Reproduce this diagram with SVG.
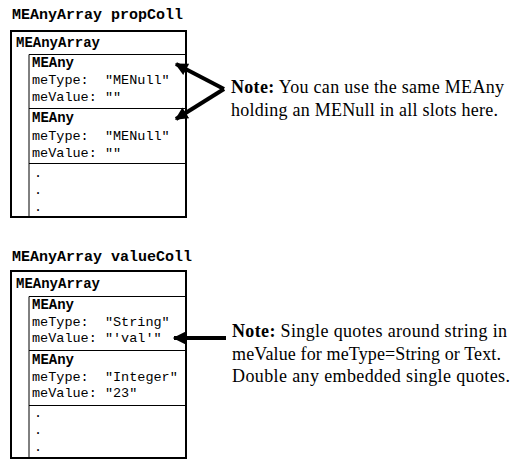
<svg xmlns="http://www.w3.org/2000/svg" width="517" height="469" viewBox="0 0 517 469">
<defs>
<style>
text{white-space:pre}
.mono{font-family:"Liberation Mono","Courier New",monospace;font-size:13.5px;fill:#000}
.monob{font-family:"Liberation Mono","Courier New",monospace;font-size:14px;font-weight:bold;fill:#000}
.title{font-family:"Liberation Mono","Courier New",monospace;font-size:15px;font-weight:bold;fill:#000}
.note{font-family:"Liberation Serif","Times New Roman",serif;font-size:18px;fill:#000}
.outer{fill:#fff;stroke:#000;stroke-width:2}
.thin{fill:none;stroke:#000;stroke-width:1}
.arr{fill:none;stroke:#000;stroke-width:4;stroke-linejoin:miter}
</style>
<marker id="ah" viewBox="0 0 10 10" refX="9" refY="5" markerWidth="3.4" markerHeight="3.2" orient="auto" markerUnits="strokeWidth">
<path d="M0,0 L10,5 L0,10 z" fill="#000"/>
</marker>
</defs>
<rect width="517" height="469" fill="#fff"/>

<g id="propColl">
<text class="title" x="12" y="19">MEAnyArray propColl</text>
<rect class="outer" x="11" y="31" width="175" height="186"/>
<text class="monob" x="16" y="47">MEAnyArray</text>
<path class="thin" d="M29,217 V54.5 H186 M29,108.5 H186 M29,163.5 H186"/>
<text class="monob" x="32" y="67">MEAny</text>
<text class="mono" x="32" y="84" xml:space="preserve">meType:  "MENull"</text>
<text class="mono" x="32" y="101">meValue: ""</text>
<text class="monob" x="32" y="122">MEAny</text>
<text class="mono" x="32" y="140" xml:space="preserve">meType:  "MENull"</text>
<text class="mono" x="32" y="157">meValue: ""</text>
<text class="mono" x="34" y="177">.</text>
<text class="mono" x="34" y="194">.</text>
<text class="mono" x="34" y="211">.</text>
</g>

<g id="note1">
<text class="note" x="231" y="93" textLength="273" lengthAdjust="spacing"><tspan font-weight="bold">Note:</tspan> You can use the same MEAny</text>
<text class="note" x="231" y="116" textLength="267" lengthAdjust="spacing">holding an MENull in all slots here.</text>
</g>

<g id="valueColl">
<text class="title" x="12" y="261">MEAnyArray valueColl</text>
<rect class="outer" x="11" y="271" width="175" height="187"/>
<text class="monob" x="16" y="288">MEAnyArray</text>
<path class="thin" d="M29,458 V296.5 H186 M29,350.5 H186 M29,405.5 H186"/>
<text class="monob" x="32" y="309">MEAny</text>
<text class="mono" x="32" y="326" xml:space="preserve">meType:  "String"</text>
<text class="mono" x="32" y="342">meValue: "'val'"</text>
<text class="monob" x="32" y="364">MEAny</text>
<text class="mono" x="32" y="381" xml:space="preserve">meType:  "Integer"</text>
<text class="mono" x="32" y="397">meValue: "23"</text>
<text class="mono" x="34" y="417">.</text>
<text class="mono" x="34" y="434">.</text>
<text class="mono" x="34" y="451">.</text>
</g>

<g id="note2">
<text class="note" x="232" y="337" textLength="275" lengthAdjust="spacing"><tspan font-weight="bold">Note:</tspan> Single quotes around string in</text>
<text class="note" x="232" y="360" textLength="269" lengthAdjust="spacing">meValue for meType=String or Text.</text>
<text class="note" x="232" y="382" textLength="278" lengthAdjust="spacing">Double any embedded single quotes.</text>
</g>

<g id="connectors">
<path class="arr" d="M224,89 L176,64" marker-end="url(#ah)"/>
<path class="arr" d="M224,89 L176,119" marker-end="url(#ah)"/>
<path class="arr" d="M226,338 L174,338" marker-end="url(#ah)"/>
</g>
</svg>
